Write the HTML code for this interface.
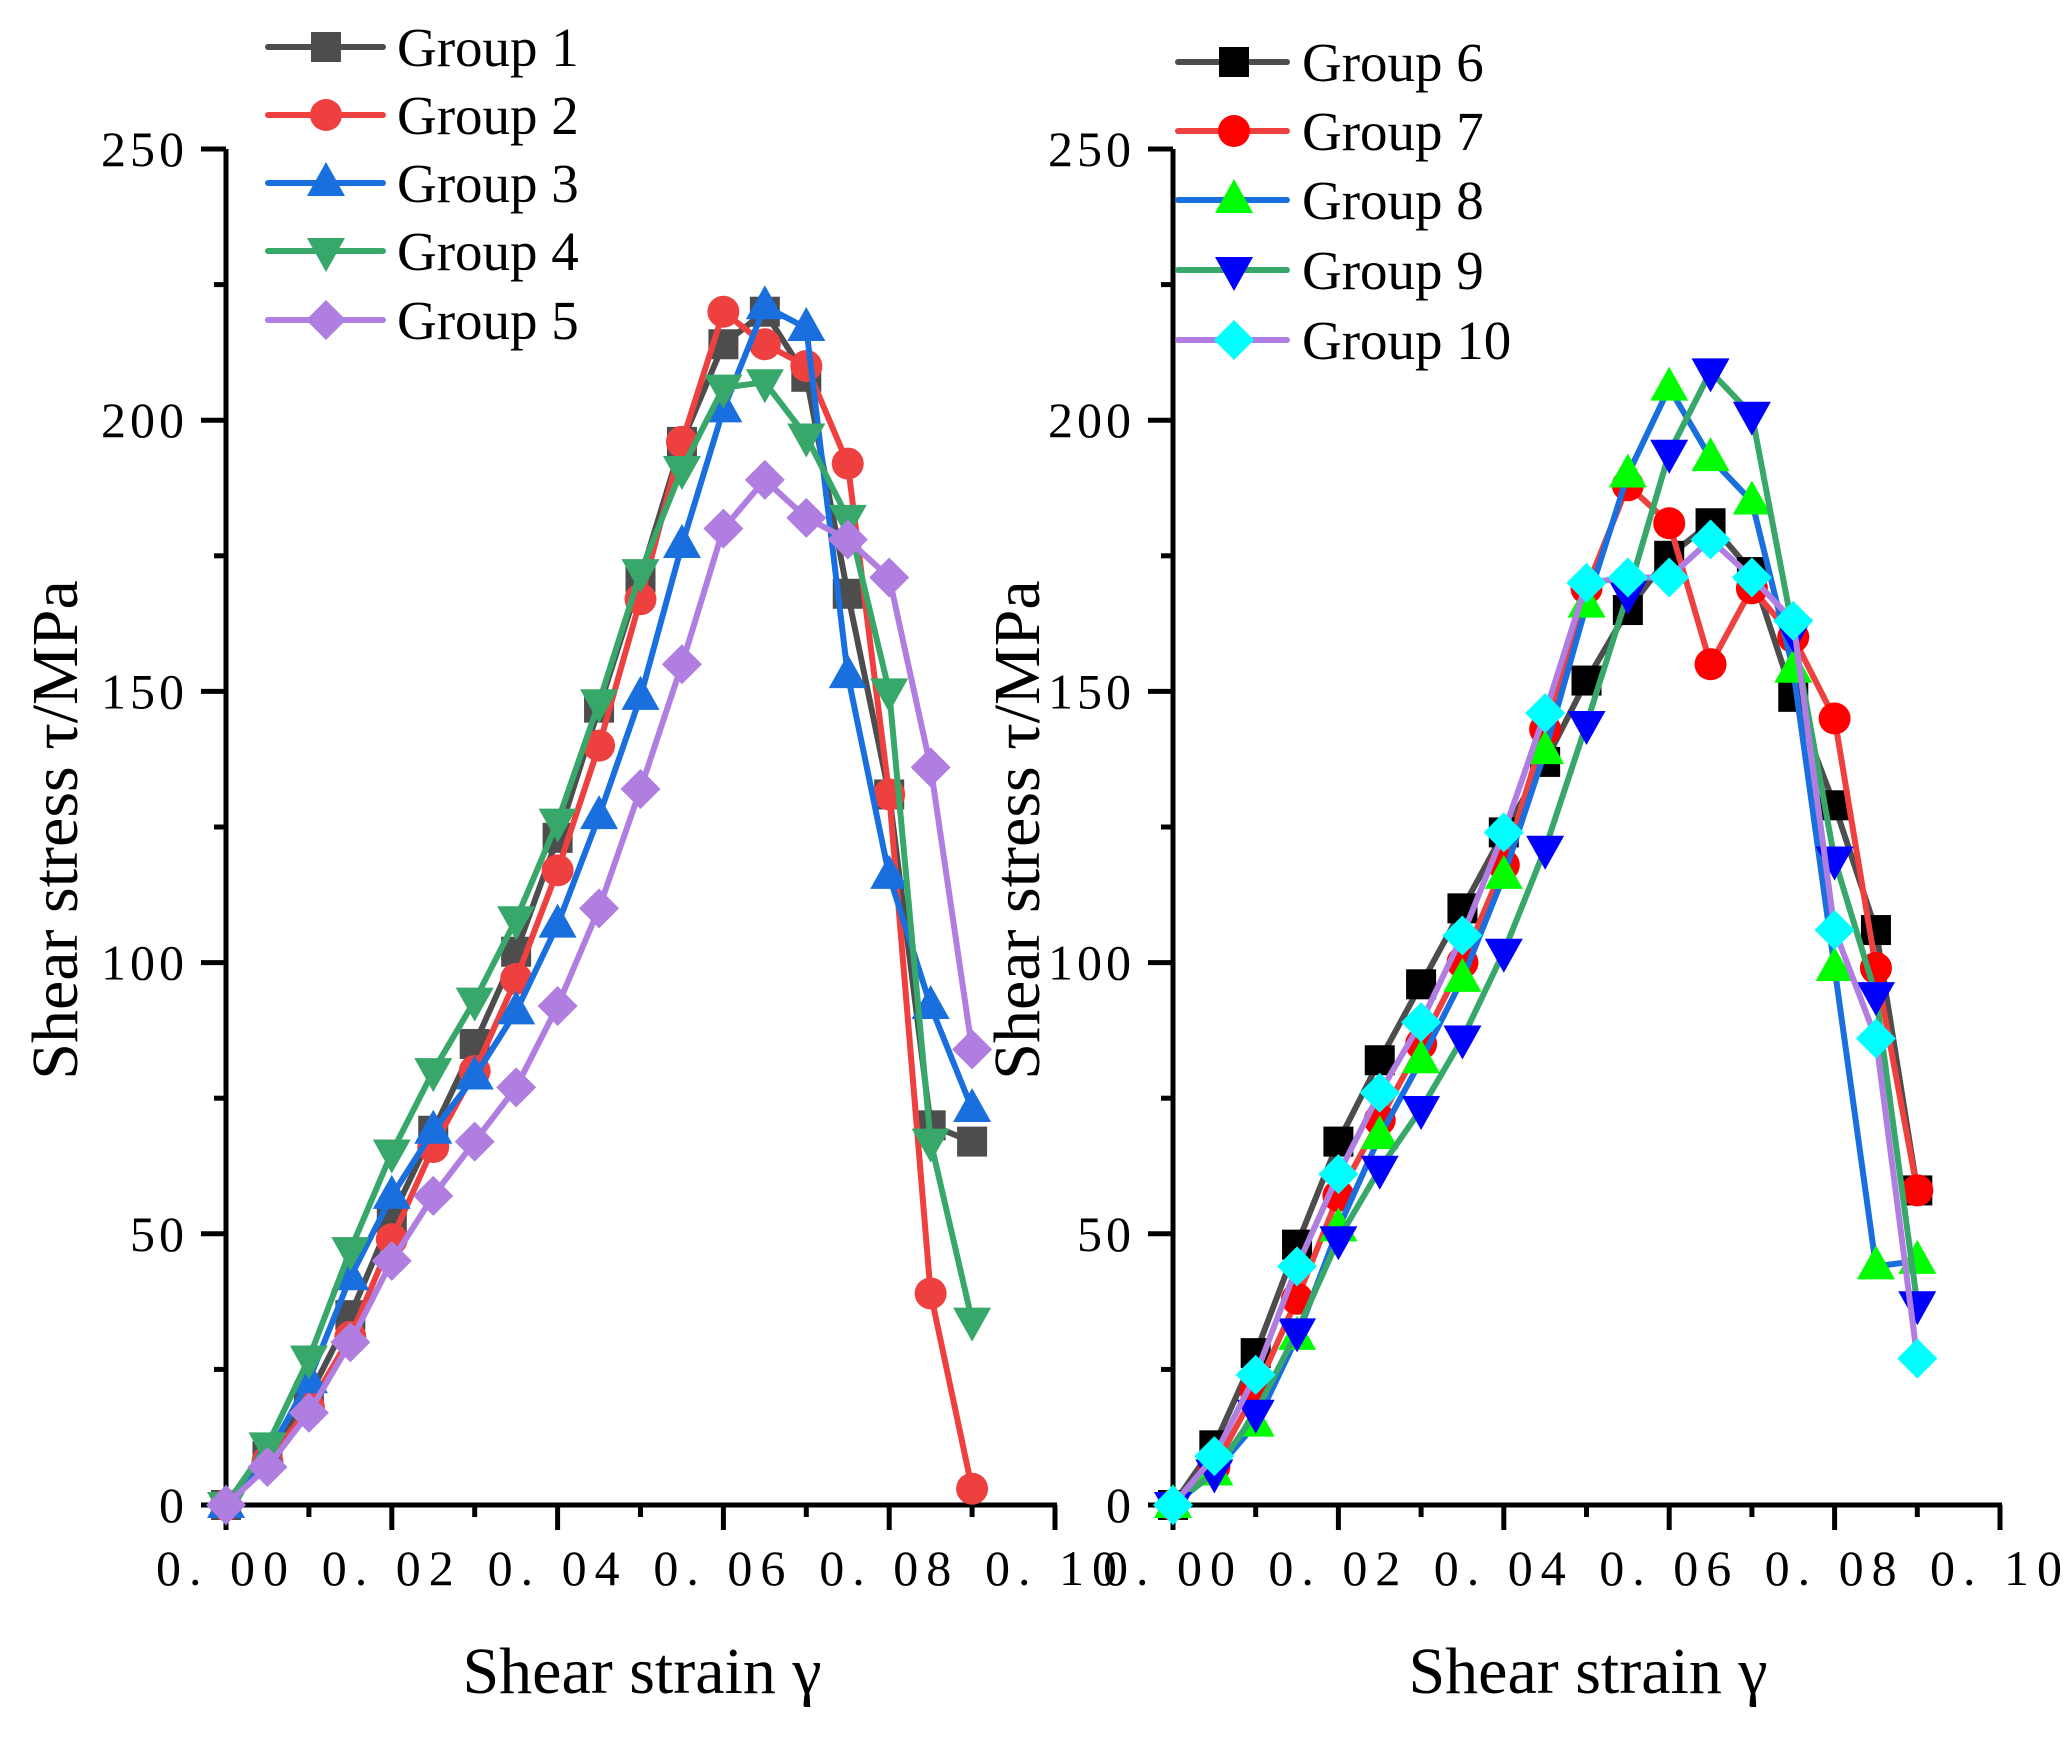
<!DOCTYPE html>
<html><head><meta charset="utf-8"><style>
html,body{margin:0;padding:0;background:#fff;}
svg{display:block;}
text{font-family:"Liberation Serif",serif;fill:#000;}
</style></head><body>
<svg id="chart" width="2070" height="1739" viewBox="0 0 2070 1739" xmlns="http://www.w3.org/2000/svg"></svg>
<script>
const strains=[0,0.005,0.01,0.015,0.02,0.025,0.03,0.035,0.04,0.045,0.05,0.055,0.06,0.065,0.07,0.075,0.08,0.085,0.09];
const xTicks=[0,0.02,0.04,0.06,0.08,0.1];
const xTickLabels=["0. 00","0. 02","0. 04","0. 06","0. 08","0. 10"];
const yTicks=[0,50,100,150,200,250];
const names=["Group 1","Group 2","Group 3","Group 4","Group 5","Group 6","Group 7","Group 8","Group 9","Group 10"];
const g1=[0,9,20,35,53,69,85,102,123,147,171,196,214,220,208,168,131,70,67];
const g2=[0,8,18,31,49,66,80,97,117,140,167,196,220,214,210,192,131,39,3];
const g3=[0,9,23,42,57,69,79,91,107,127,149,177,202,221,217,153,116,92,73];
const g4=[0,11,27,47,65,80,93,108,126,148,172,191,206,207,197,182,150,67,34];
const g5=[0,7,17,30,45,57,67,77,92,110,132,155,180,189,182,178,171,136,84];
const g6=[0,11,28,48,67,82,96,110,124,137,152,165,175,181,172,149,129,106,58];
const g7=[0,7,21,38,57,71,85,100,118,143,169,188,181,155,169,160,145,99,58];
const g8=[0,6,15,31,51,68,82,97,116,139,166,190,206,193,185,154,99,44,45];
const g9=[0,6,17,32,49,62,73,86,102,121,144,168,194,209,201,161,119,94,37];
const g10=[0,9,24,44,61,76,89,105,124,146,170,171,171,178,171,163,106,86,27];

const NS="http://www.w3.org/2000/svg";
const svg=document.getElementById('chart');
function mk(tag,attrs,parent){const e=document.createElementNS(NS,tag);for(const k in attrs)e.setAttribute(k,attrs[k]);(parent||svg).appendChild(e);return e;}

const panels=[
 {x0:226,x1:1055,y0:1505,y1:149,prefix:'left',
  series:[
   {d:g1,line:'#4d4d4d',fill:'#4d4d4d',m:'square'},
   {d:g2,line:'#ef4040',fill:'#ef4040',m:'circle'},
   {d:g3,line:'#1a6fdf',fill:'#1a6fdf',m:'up'},
   {d:g4,line:'#37a76a',fill:'#37a76a',m:'down'},
   {d:g5,line:'#b07ee0',fill:'#b07ee0',m:'diamond'}],
  leg:{lx0:268,lx1:383,mx:326,tx:397,ys:[47,115,183,251,320]},names:names.slice(0,5),
  ytitleX:55,xtitleX:642},
 {x0:1173,x1:2000,y0:1505,y1:149,prefix:'right',
  series:[
   {d:g6,line:'#4d4d4d',fill:'#000000',m:'square'},
   {d:g7,line:'#ef4040',fill:'#ff0000',m:'circle'},
   {d:g8,line:'#1a6fdf',fill:'#00ff00',m:'up'},
   {d:g9,line:'#37a76a',fill:'#0000ff',m:'down'},
   {d:g10,line:'#b07ee0',fill:'#00ffff',m:'diamond'}],
  leg:{lx0:1178,lx1:1287,mx:1234,tx:1302,ys:[62,131,200,270,340]},names:names.slice(5),
  ytitleX:1017,xtitleX:1588}
];

function marker(g,type,cx,cy,fill){
  let e;
  if(type==='square') e=mk('rect',{x:cx-15,y:cy-15,width:30,height:30,fill:fill},g);
  else if(type==='circle') e=mk('circle',{cx:cx,cy:cy,r:16,fill:fill},g);
  else if(type==='up') e=mk('polygon',{points:`${cx},${cy-21} ${cx-19},${cy+13} ${cx+19},${cy+13}`,fill:fill},g);
  else if(type==='down') e=mk('polygon',{points:`${cx},${cy+21} ${cx-19},${cy-13} ${cx+19},${cy-13}`,fill:fill},g);
  else e=mk('polygon',{points:`${cx},${cy-20} ${cx+20},${cy} ${cx},${cy+20} ${cx-20},${cy}`,fill:fill},g);
  return e;
}

panels.forEach(p=>{
  const sx=v=>p.x0+(v/0.1)*(p.x1-p.x0);
  const sy=v=>p.y0-(v/250)*(p.y0-p.y1);
  const ax=mk('g',{});
  
  
  mk('line',{x1:p.x0,y1:p.y0,x2:p.x1+2,y2:p.y0,stroke:'#000','stroke-width':5},ax);
  mk('line',{x1:p.x0,y1:p.y0+2,x2:p.x0,y2:p.y1,stroke:'#000','stroke-width':5},ax);
  for(let i=0;i<=10;i++){const v=i*0.01;const x=sx(v);const len=(i%2===0)?25:12;
    mk('line',{x1:x,y1:p.y0,x2:x,y2:p.y0+len,stroke:'#000','stroke-width':5},ax);}
  for(let i=0;i<=10;i++){const v=i*25;const y=sy(v);const len=(i%2===0)?25:12;
    mk('line',{x1:p.x0,y1:y,x2:p.x0-len,y2:y,stroke:'#000','stroke-width':5},ax);}
  xTicks.forEach((v,i)=>{const t=mk('text',{x:sx(v),y:p.y0+80,'font-size':50,'letter-spacing':8,'text-anchor':'middle'},ax);t.textContent=xTickLabels[i];
    
    });
  yTicks.forEach(v=>{const t=mk('text',{x:p.x0-38,y:sy(v)+17,'font-size':50,'letter-spacing':4,'text-anchor':'end'},ax);t.textContent=String(v);
    
    });
  const cy=830;
  const yt=mk('text',{x:p.ytitleX,y:cy,'font-size':66,'text-anchor':'middle',transform:`rotate(-90 ${p.ytitleX} ${cy})`,dy:22});
  yt.textContent='Shear stress \u03c4/MPa';
  
  
  const xt=mk('text',{x:p.xtitleX,y:1693,'font-size':66,'text-anchor':'middle'});
  xt.textContent='Shear strain \u03b3';
  
  
  p.series.forEach((s,si)=>{
    const g=mk('g',{});
    
    
    const pts=s.d.map((v,i)=>sx(strains[i])+','+sy(v)).join(' ');
    mk('polyline',{points:pts,fill:'none',stroke:s.line,'stroke-width':6,'stroke-linejoin':'round','stroke-linecap':'round'},g);
    s.d.forEach((v,i)=>{const m=marker(g,s.m,sx(strains[i]),sy(v),s.fill);
      
      });
    const lg=mk('g',{});
    
    
    const y=p.leg.ys[si];
    mk('line',{x1:p.leg.lx0,y1:y,x2:p.leg.lx1,y2:y,stroke:s.line,'stroke-width':6,'stroke-linecap':'round'},lg);
    marker(lg,s.m,p.leg.mx,y,s.fill);
    const t=mk('text',{x:p.leg.tx,y:y+19,'font-size':55},lg);
    t.textContent=p.names[si];
  });
});
</script>
</body></html>
